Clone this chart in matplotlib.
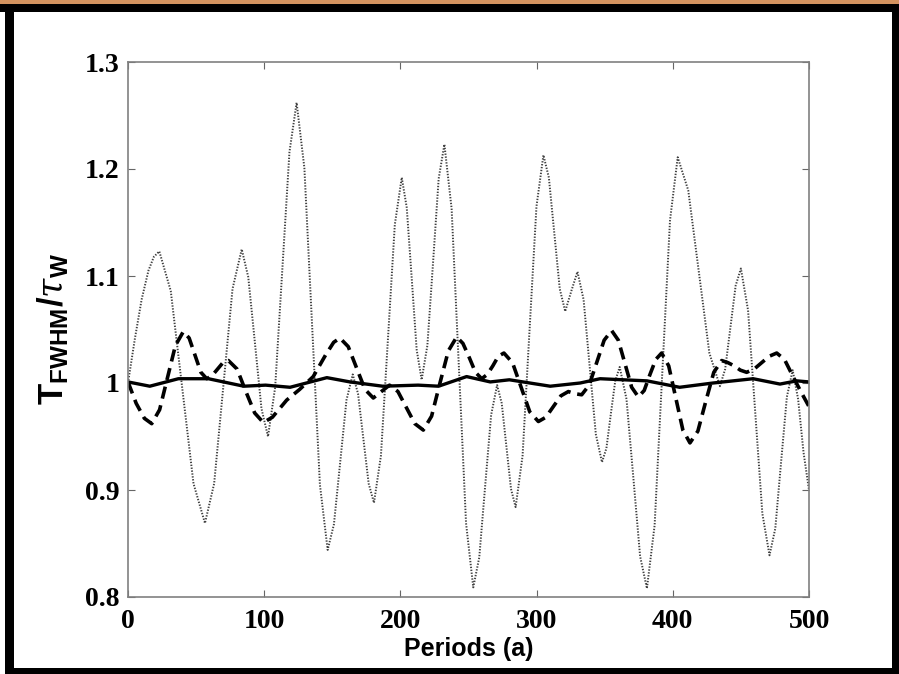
import matplotlib
matplotlib.use("Agg")
import matplotlib.pyplot as plt
from matplotlib.patches import Rectangle

# dotted series (grey)
dot_x = [0, 5, 10, 15, 19, 23, 31.4, 39.75, 48.1, 56.5, 63.25, 70, 76.75, 83.5,
         88.3, 93.15, 98.0, 102.8, 108.05, 113.3, 118.55, 123.8, 129.5, 135.2, 140.9,
         146.6, 151.2, 155.8, 160.4, 165, 168.9, 172.8, 176.7, 180.6, 185.7, 190.8,
         195.9, 201, 204.65, 208.3, 211.95, 215.6, 219.8, 224.0, 228.1, 232.3, 237.6,
         242.9, 248.2, 253.5, 257.9, 262.25, 266.6, 271, 274.4, 277.8, 281.2, 284.6,
         289.7, 294.8, 299.9, 305, 309, 313, 317, 321, 325.5, 330, 334.5, 339, 343.5,
         348, 351.25, 354.5, 357.75, 361, 366, 371, 376, 381, 386.65, 392.3, 397.95,
         403.6, 411.35, 419.1, 426.85, 434.6, 438.45, 442.3, 446.15, 450, 455.25,
         460.5, 465.75, 471, 475.25, 479.5, 483.75, 488, 492, 496, 500]
dot_y = [1.000, 1.041, 1.078, 1.105, 1.118, 1.123, 1.086, 0.996, 0.906, 0.869, 0.906,
         0.997, 1.088, 1.125, 1.099, 1.038, 0.976, 0.950, 0.996, 1.106, 1.216, 1.262,
         1.201, 1.053, 0.905, 0.844, 0.868, 0.926, 0.984, 1.008, 0.990, 0.948, 0.906,
         0.888, 0.932, 1.040, 1.148, 1.192, 1.164, 1.098, 1.031, 1.003, 1.035, 1.113,
         1.191, 1.223, 1.163, 1.016, 0.869, 0.809, 0.837, 0.904, 0.970, 0.998, 0.981,
         0.941, 0.901, 0.884, 0.932, 1.049, 1.165, 1.213, 1.192, 1.140, 1.088, 1.067,
         1.086, 1.104, 1.078, 1.015, 0.952, 0.926, 0.939, 0.971, 1.002, 1.015, 0.985,
         0.912, 0.838, 0.808, 0.867, 1.010, 1.152, 1.211, 1.180, 1.104, 1.028, 0.997,
         1.013, 1.052, 1.091, 1.107, 1.068, 0.973, 0.878, 0.839, 0.864, 0.926, 0.987,
         1.012, 0.985, 0.935, 0.900]

# dashed series (thick black)
dash_x = [0, 6, 12, 17.4, 23.2, 29.0, 34.8, 40.6, 44.9, 49.2, 53.5, 57.8, 61.8, 65.75,
          69.7, 73.7, 80.1, 86.55, 93.0, 99.4, 106, 116.5, 126, 136, 145, 151, 155.6,
          161.7, 167.85, 174.0, 180.1, 186, 192, 198.2, 204.4, 210.6, 216.8, 222.9,
          229.05, 235.2, 241.3, 245.9, 250.5, 255.1, 259.7, 263.8, 267.85, 271.9, 276,
          282.3, 288.65, 295.0, 301.3, 306.8, 312.3, 317.8, 323.3, 328.2, 333.1, 338.6,
          344.1, 349.6, 355.1, 360, 364.9, 369.8, 374.7, 379.0, 383.25, 387.5, 391.8,
          397.0, 402.2, 407.4, 412.6, 418.4, 424.25, 430.1, 435.9, 440.5, 445.05, 449.6,
          454.2, 459.7, 465.25, 470.8, 476.3, 482, 488.3, 494, 500]
dash_y = [1.001, 0.981, 0.967, 0.962, 0.975, 1.005, 1.035, 1.048, 1.042, 1.026, 1.010,
          1.004, 1.007, 1.013, 1.019, 1.021, 1.013, 0.992, 0.972, 0.963, 0.968, 0.984,
          0.994, 1.006, 1.026, 1.038, 1.042, 1.034, 1.014, 0.994, 0.986, 0.992, 0.998,
          0.992, 0.977, 0.962, 0.956, 0.969, 1.000, 1.030, 1.043, 1.037, 1.024, 1.010,
          1.004, 1.008, 1.016, 1.025, 1.028, 1.019, 0.996, 0.973, 0.964, 0.968, 0.978,
          0.988, 0.992, 0.990, 0.989, 0.998, 1.019, 1.040, 1.049, 1.040, 1.018, 0.996,
          0.987, 0.993, 1.008, 1.022, 1.028, 1.016, 0.986, 0.956, 0.944, 0.955, 0.983,
          1.010, 1.021, 1.019, 1.016, 1.012, 1.010, 1.013, 1.019, 1.025, 1.028, 1.022,
          1.006, 0.992, 0.978]

# solid series (thick black)
sol_x = [0, 16, 37, 59, 85, 101, 119, 146, 163, 187, 213, 228, 248.6, 266, 280, 310,
         332, 346.6, 381, 405, 429.6, 459, 478.7, 491, 500]
sol_y = [1.001, 0.997, 1.004, 1.004, 0.997, 0.998, 0.996, 1.005, 1.001, 0.997, 0.998,
         0.997, 1.006, 1.001, 1.003, 0.997, 1.000, 1.004, 1.002, 0.996, 1.000, 1.004,
         0.999, 1.002, 1.001]

x_ticks = [0, 100, 200, 300, 400, 500]
y_ticks = [0.8, 0.9, 1.0, 1.1, 1.2, 1.3]
y_ticklabels = ["0.8", "0.9", "1", "1.1", "1.2", "1.3"]

plt.rcParams["mathtext.fontset"] = "custom"
plt.rcParams["mathtext.rm"] = "Liberation Sans:bold"
plt.rcParams["mathtext.bf"] = "Liberation Sans:bold"
plt.rcParams["mathtext.it"] = "DejaVu Serif:italic"

W, H = 899, 674
fig = plt.figure(figsize=(W / 100, H / 100), dpi=100)

# slide frame around the plot
def band(x0, y0, x1, y1, color):
    fig.add_artist(Rectangle((x0 / W, 1 - y1 / H), (x1 - x0) / W, (y1 - y0) / H,
                             transform=fig.transFigure, color=color, lw=0))

band(0, 0, W, 4, "#d4935f")
band(0, 4, W, 12, "black")
band(5, 12, 14, H, "black")
band(892, 12, W, H, "black")
band(5, 668, W, H, "black")

ax = fig.add_axes([128 / W, 1 - 597 / H, (809 - 128) / W, (597 - 62) / H])
ax.plot(dot_x, dot_y, color="0.25", lw=1.4, ls=(0, (0.7, 0.8)))
ax.plot(dash_x, dash_y, color="black", lw=2.6, ls=(0, (3.4, 1.9)))
ax.plot(sol_x, sol_y, color="black", lw=2.4)

ax.set_xlim(0, 500)
ax.set_ylim(0.8, 1.3)
ax.set_xticks(x_ticks)
ax.set_yticks(y_ticks)
ax.set_yticklabels(y_ticklabels)
ax.tick_params(direction="in", length=5, width=0.8, color="0.4",
               top=True, right=True, pad=6)
ax.tick_params(axis="x", pad=9)
for lab in ax.get_xticklabels() + ax.get_yticklabels():
    lab.set_family("Liberation Serif")
    lab.set_fontweight("bold")
    lab.set_fontsize(20)
for s in ax.spines.values():
    s.set_color("0.5")
    s.set_linewidth(1.2)

ax.set_xlabel("Periods (a)", fontsize=18, fontweight="bold",
              family="Liberation Sans", labelpad=2)
ax.set_ylabel(r"$\mathrm{T}_{\mathrm{FWHM}}/\tau_{\mathrm{W}}$", fontsize=25,
              labelpad=10)

fig.savefig("out.png", dpi=100)
